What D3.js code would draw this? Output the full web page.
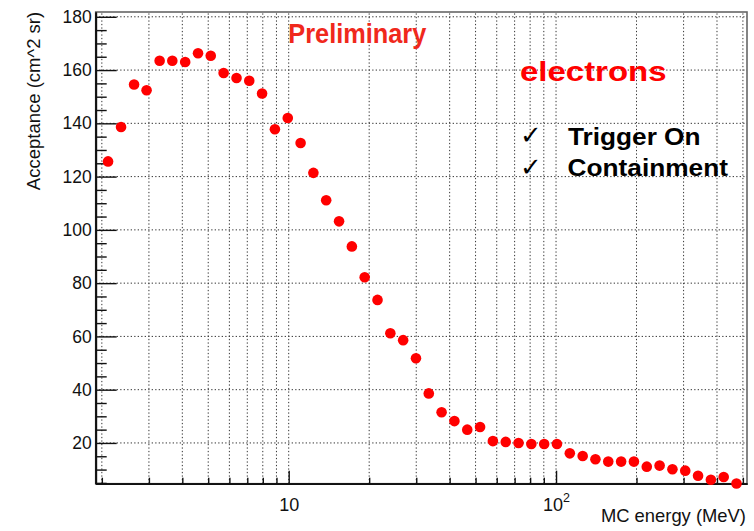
<!DOCTYPE html>
<html>
<head>
<meta charset="utf-8">
<script src="https://cdn.jsdelivr.net/npm/d3@7"></script>
<style>
  html, body { margin: 0; padding: 0; background: #fff; }
  svg { display: block; }
  text { font-family: "Liberation Sans", Arial, Helvetica, sans-serif; }
</style>
</head>
<body>
<svg id="chart" width="754" height="531"></svg>
<script>
// ---- data ----
const energy = [2.11, 2.36, 2.64, 2.94, 3.29, 3.67, 4.10, 4.58, 5.11, 5.71,
  6.38, 7.12, 7.95, 8.88, 9.92, 11.08, 12.37, 13.81, 15.43, 17.23,
  19.24, 21.49, 24.00, 26.80, 29.93, 33.42, 37.32, 41.68, 46.55, 51.98,
  58.05, 64.83, 72.40, 80.85, 90.29, 100.8, 112.6, 125.8, 140.4, 156.8,
  175.2, 195.6, 218.5, 244.0, 272.5, 304.3, 339.8, 379.5, 423.8, 473.2];
const acceptance = [125.7, 138.6, 154.6, 152.4, 163.5, 163.5, 163.0, 166.3, 165.4, 158.9,
  157.0, 156.0, 151.2, 137.8, 142.0, 132.6, 121.4, 111.1, 103.2, 93.8,
  82.2, 73.7, 61.2, 58.6, 51.8, 38.6, 31.5, 28.2, 25.0, 26.0,
  20.7, 20.4, 20.0, 19.6, 19.6, 19.6, 16.1, 15.1, 13.9, 13.0,
  13.0, 13.0, 11.1, 11.5, 10.1, 9.6, 7.7, 6.2, 7.2, 4.8];
const yMajorTicks = [20, 40, 60, 80, 100, 120, 140, 160, 180];
const yMinorTicks = [5, 10, 15, 25, 30, 35, 45, 50, 55, 65, 70, 75, 85, 90, 95, 105, 110, 115,
  125, 130, 135, 145, 150, 155, 165, 170, 175];
const xMajorTicks = [10, 100];
const xMinorTicks = [2, 3, 4, 5, 6, 7, 8, 9, 20, 30, 40, 50, 60, 70, 80, 90, 200, 300, 400, 500];
const xTickLabels = {10: ["10", ""], 100: ["10", "2"]};
const xDomain = [1.897, 518];
const yDomain = [4.7, 181.8];
const yTitle = "Acceptance (cm^2 sr)";
const xTitle = "MC energy (MeV)";

// ---- layout ----
const L = 95.7, R = 747, T = 12, B = 483.7;
const svg = d3.select("#chart");
svg.append("rect").attr("width", 754).attr("height", 531).attr("fill", "#fff");

const x = d3.scaleLog().domain(xDomain).range([L, R]);
const y = d3.scaleLinear().domain(yDomain).range([B, T]);

// grid
const grid = svg.append("g").attr("stroke", "#333").attr("stroke-width", 1)
  .attr("stroke-dasharray", "1.3,2.2");
xMajorTicks.concat(xMinorTicks).forEach(v => {
  grid.append("line").attr("x1", x(v)).attr("x2", x(v)).attr("y1", B).attr("y2", T);
});
yMajorTicks.forEach(v => {
  grid.append("line").attr("x1", L).attr("x2", R).attr("y1", y(v)).attr("y2", y(v));
});

// frame
svg.append("rect").attr("x", L).attr("y", T).attr("width", R - L).attr("height", B - T)
  .attr("fill", "none").attr("stroke", "#666").attr("stroke-width", 1.6);

// y axis
const yAxisMajor = d3.axisLeft(y).tickValues(yMajorTicks).tickSizeInner(-21).tickSizeOuter(0)
  .tickPadding(4).tickFormat(d3.format("d"));
const gy = svg.append("g").attr("transform", `translate(${L},0)`).call(yAxisMajor);
gy.selectAll("text").attr("font-size", 17.5).attr("fill", "#111")
  .style("font-family", '"Liberation Sans", Arial, sans-serif');
const yAxisMinor = d3.axisLeft(y).tickValues(yMinorTicks).tickSizeInner(-11).tickSizeOuter(0)
  .tickFormat("");
const gym = svg.append("g").attr("transform", `translate(${L},0)`).call(yAxisMinor);
[gy, gym].forEach(g => {
  g.select(".domain").attr("stroke", "#111").attr("stroke-width", 1.8);
  g.selectAll(".tick line").attr("stroke", "#111").attr("stroke-width", 1.4);
});

// x axis
const xAxisMajor = d3.axisBottom(x).tickValues(xMajorTicks).tickSizeInner(-13).tickSizeOuter(0)
  .tickPadding(8).tickFormat("");
const gx = svg.append("g").attr("transform", `translate(0,${B})`).call(xAxisMajor);
const xAxisMinor = d3.axisBottom(x).tickValues(xMinorTicks).tickSizeInner(-6).tickSizeOuter(0)
  .tickFormat("");
const gxm = svg.append("g").attr("transform", `translate(0,${B})`).call(xAxisMinor);
[gx, gxm].forEach(g => {
  g.select(".domain").attr("stroke", "#111").attr("stroke-width", 1.8);
  g.selectAll(".tick line").attr("stroke", "#111").attr("stroke-width", 1.4);
});
gx.selectAll(".tick").each(function(d) {
  const lab = xTickLabels[d];
  const t = d3.select(this).append("text").attr("y", 27).attr("fill", "#111")
    .attr("text-anchor", "middle").attr("font-size", 18)
    .style("font-family", '"Liberation Sans", Arial, sans-serif');
  t.append("tspan").text(lab[0]);
  if (lab[1]) t.append("tspan").attr("dy", -9).attr("font-size", 12.5).text(lab[1]);
});

// points
svg.append("g").selectAll("circle").data(energy).join("circle")
  .attr("cx", (d) => x(d))
  .attr("cy", (d, i) => y(acceptance[i]))
  .attr("r", 5.3)
  .attr("fill", "#ff0000");

// titles
svg.append("text")
  .attr("transform", "translate(40,101) rotate(-90)")
  .attr("text-anchor", "middle").attr("font-size", 18.5).attr("fill", "#111")
  .text(yTitle);
svg.append("text")
  .attr("x", 746).attr("y", 522).attr("font-size", 18.4).attr("fill", "#111")
  .attr("text-anchor", "end")
  .text(xTitle);

// annotations
svg.append("text").attr("x", 288.3).attr("y", 42.5).attr("font-size", 28)
  .attr("font-weight", "bold").attr("fill", "#f0281c")
  .attr("textLength", 138).attr("lengthAdjust", "spacingAndGlyphs").text("Preliminary");
svg.append("text").attr("x", 520).attr("y", 81).attr("font-size", 28)
  .attr("font-weight", "bold").attr("fill", "#ff0000")
  .attr("textLength", 146.5).attr("lengthAdjust", "spacingAndGlyphs").text("electrons");
svg.append("text").attr("x", 520).attr("y", 143.5).attr("font-size", 26)
  .style("font-family", '"DejaVu Sans", sans-serif').attr("fill", "#000").text("✓");
svg.append("text").attr("x", 520).attr("y", 175.5).attr("font-size", 26)
  .style("font-family", '"DejaVu Sans", sans-serif').attr("fill", "#000").text("✓");
svg.append("text").attr("x", 568).attr("y", 145).attr("font-size", 23)
  .attr("font-weight", "bold").attr("fill", "#000")
  .attr("textLength", 132.5).attr("lengthAdjust", "spacingAndGlyphs").text("Trigger On");
svg.append("text").attr("x", 567.5).attr("y", 176).attr("font-size", 23)
  .attr("font-weight", "bold").attr("fill", "#000")
  .attr("textLength", 160.5).attr("lengthAdjust", "spacingAndGlyphs").text("Containment");
</script>
</body>
</html>
